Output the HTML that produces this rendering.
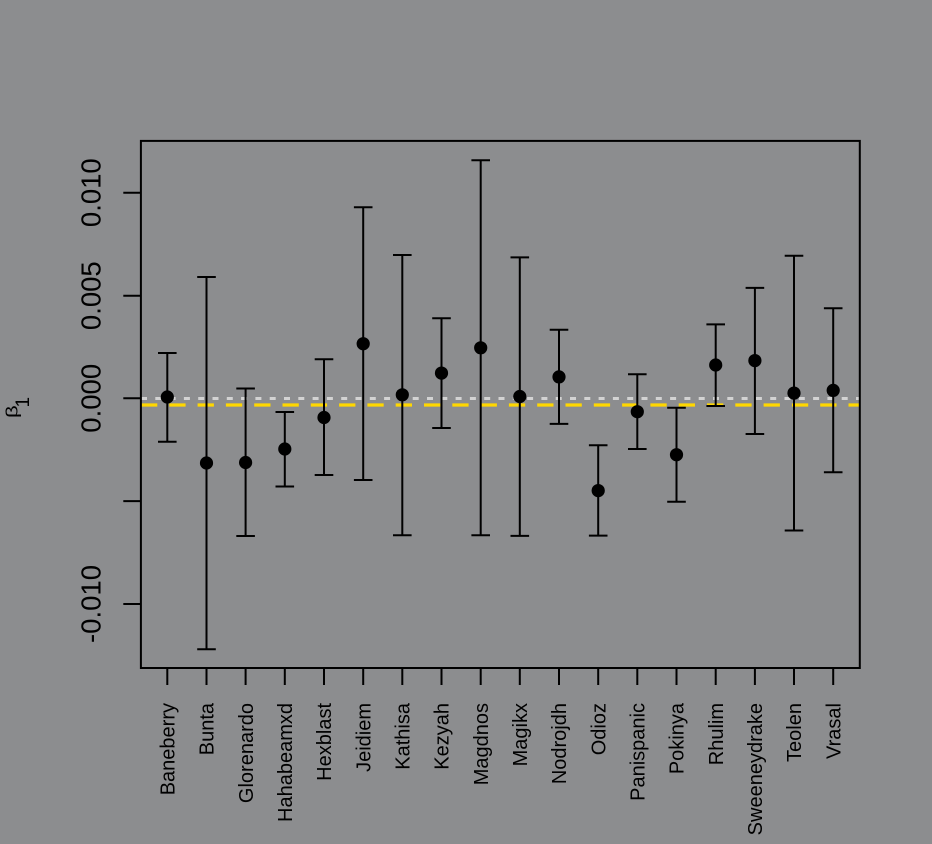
<!DOCTYPE html>
<html><head><meta charset="utf-8"><style>
html,body{margin:0;padding:0;background:#8c8d8f;}
svg{display:block;}
text{font-family:"Liberation Sans",Arial,sans-serif;fill:#000;}
</style></head><body>
<svg width="932" height="844" viewBox="0 0 932 844" xmlns="http://www.w3.org/2000/svg">
<rect x="0" y="0" width="932" height="844" fill="#8c8d8f"/>
<!-- reference lines -->
<line x1="141" y1="398.5" x2="860" y2="398.5" stroke="#d3d3d3" stroke-width="3" stroke-dasharray="6 8.3"/>
<line x1="141" y1="405" x2="860" y2="405" stroke="#FFD700" stroke-width="3.3" stroke-dasharray="16.3 12"/>
<!-- error bars -->
<g stroke="#000" stroke-width="2" fill="none">
<path d="M167.3 353V441.8M158 353H176.6M158 441.8H176.6"/>
<path d="M206.5 277V649.3M197.2 277H215.8M197.2 649.3H215.8"/>
<path d="M245.6 388.5V536M236.3 388.5H254.9M236.3 536H254.9"/>
<path d="M284.8 412V486.5M275.5 412H294.1M275.5 486.5H294.1"/>
<path d="M324 359.3V475M314.7 359.3H333.3M314.7 475H333.3"/>
<path d="M363.2 207.3V480M353.9 207.3H372.5M353.9 480H372.5"/>
<path d="M402.3 255V535.2M393 255H411.6M393 535.2H411.6"/>
<path d="M441.5 318.3V428M432.2 318.3H450.8M432.2 428H450.8"/>
<path d="M480.7 160.3V535.2M471.4 160.3H490M471.4 535.2H490"/>
<path d="M519.8 257.4V535.9M510.5 257.4H529.1M510.5 535.9H529.1"/>
<path d="M559 329.8V423.9M549.7 329.8H568.3M549.7 423.9H568.3"/>
<path d="M598.2 445.2V535.6M588.9 445.2H607.5M588.9 535.6H607.5"/>
<path d="M637.3 374.2V449M628 374.2H646.6M628 449H646.6"/>
<path d="M676.5 407.7V501.7M667.2 407.7H685.8M667.2 501.7H685.8"/>
<path d="M715.7 324.4V406M706.4 324.4H725M706.4 406H725"/>
<path d="M754.9 287.9V434M745.6 287.9H764.2M745.6 434H764.2"/>
<path d="M794 255.7V530.5M784.7 255.7H803.3M784.7 530.5H803.3"/>
<path d="M833.2 308.2V472.3M823.9 308.2H842.5M823.9 472.3H842.5"/>
</g>
<!-- points -->
<g fill="#000">
<circle cx="167.3" cy="397" r="6.6"/>
<circle cx="206.5" cy="463" r="6.6"/>
<circle cx="245.6" cy="462.5" r="6.6"/>
<circle cx="284.8" cy="449" r="6.6"/>
<circle cx="324" cy="417.5" r="6.6"/>
<circle cx="363.2" cy="343.7" r="6.6"/>
<circle cx="402.3" cy="394.8" r="6.6"/>
<circle cx="441.5" cy="373.1" r="6.6"/>
<circle cx="480.7" cy="347.8" r="6.6"/>
<circle cx="519.8" cy="396.5" r="6.6"/>
<circle cx="559" cy="376.9" r="6.6"/>
<circle cx="598.2" cy="490.6" r="6.6"/>
<circle cx="637.3" cy="411.7" r="6.6"/>
<circle cx="676.5" cy="454.7" r="6.6"/>
<circle cx="715.7" cy="365" r="6.6"/>
<circle cx="754.9" cy="360.6" r="6.6"/>
<circle cx="794" cy="393.1" r="6.6"/>
<circle cx="833.2" cy="390.4" r="6.6"/>
</g>
<!-- box -->
<rect x="140.9" y="140.9" width="718.9" height="527.1" fill="none" stroke="#000" stroke-width="2"/>
<!-- ticks -->
<g stroke="#000" stroke-width="2">
<path d="M123.3 192.7H141M123.3 295.7H141M123.3 398.3H141M123.3 501.1H141M123.3 604H141"/>
<path d="M167.3 668V685M206.5 668V685M245.6 668V685M284.8 668V685M324 668V685M363.2 668V685M402.3 668V685M441.5 668V685M480.7 668V685M519.8 668V685M559 668V685M598.2 668V685M637.3 668V685M676.5 668V685M715.7 668V685M754.9 668V685M794 668V685M833.2 668V685"/>
</g>
<!-- y tick labels -->
<g font-size="27.5" text-anchor="middle">
<text transform="translate(100.5,192.7) rotate(-90)">0.010</text>
<text transform="translate(100.5,295.7) rotate(-90)">0.005</text>
<text transform="translate(100.5,398.3) rotate(-90)">0.000</text>
<text transform="translate(100.5,604) rotate(-90)">-0.010</text>
</g>
<!-- x tick labels -->
<g font-size="20" text-anchor="end">
<text transform="translate(174.5,703) rotate(-90)">Baneberry</text>
<text transform="translate(213.7,703) rotate(-90)">Bunta</text>
<text transform="translate(252.8,703) rotate(-90)">Glorenardo</text>
<text transform="translate(292,703) rotate(-90)">Hahabeamxd</text>
<text transform="translate(331.2,703) rotate(-90)">Hexblast</text>
<text transform="translate(370.4,703) rotate(-90)">Jeidiem</text>
<text transform="translate(409.5,703) rotate(-90)">Kathisa</text>
<text transform="translate(448.7,703) rotate(-90)">Kezyah</text>
<text transform="translate(487.9,703) rotate(-90)">Magdnos</text>
<text transform="translate(527,703) rotate(-90)">Magikx</text>
<text transform="translate(566.2,703) rotate(-90)">Nodrojdh</text>
<text transform="translate(605.4,703) rotate(-90)">Odioz</text>
<text transform="translate(644.5,703) rotate(-90)">Panispanic</text>
<text transform="translate(683.7,703) rotate(-90)">Pokinya</text>
<text transform="translate(722.9,703) rotate(-90)">Rhulim</text>
<text transform="translate(762.1,703) rotate(-90)">Sweeneydrake</text>
<text transform="translate(801.2,703) rotate(-90)">Teolen</text>
<text transform="translate(840.4,703) rotate(-90)">Vrasal</text>
</g>
<!-- y axis title -->
<text transform="translate(17.5,418) rotate(-90) scale(1.3,1)" font-size="17">β</text>
<text transform="translate(29,407.5) rotate(-90)" font-size="19">1</text>
</svg>
</body></html>
